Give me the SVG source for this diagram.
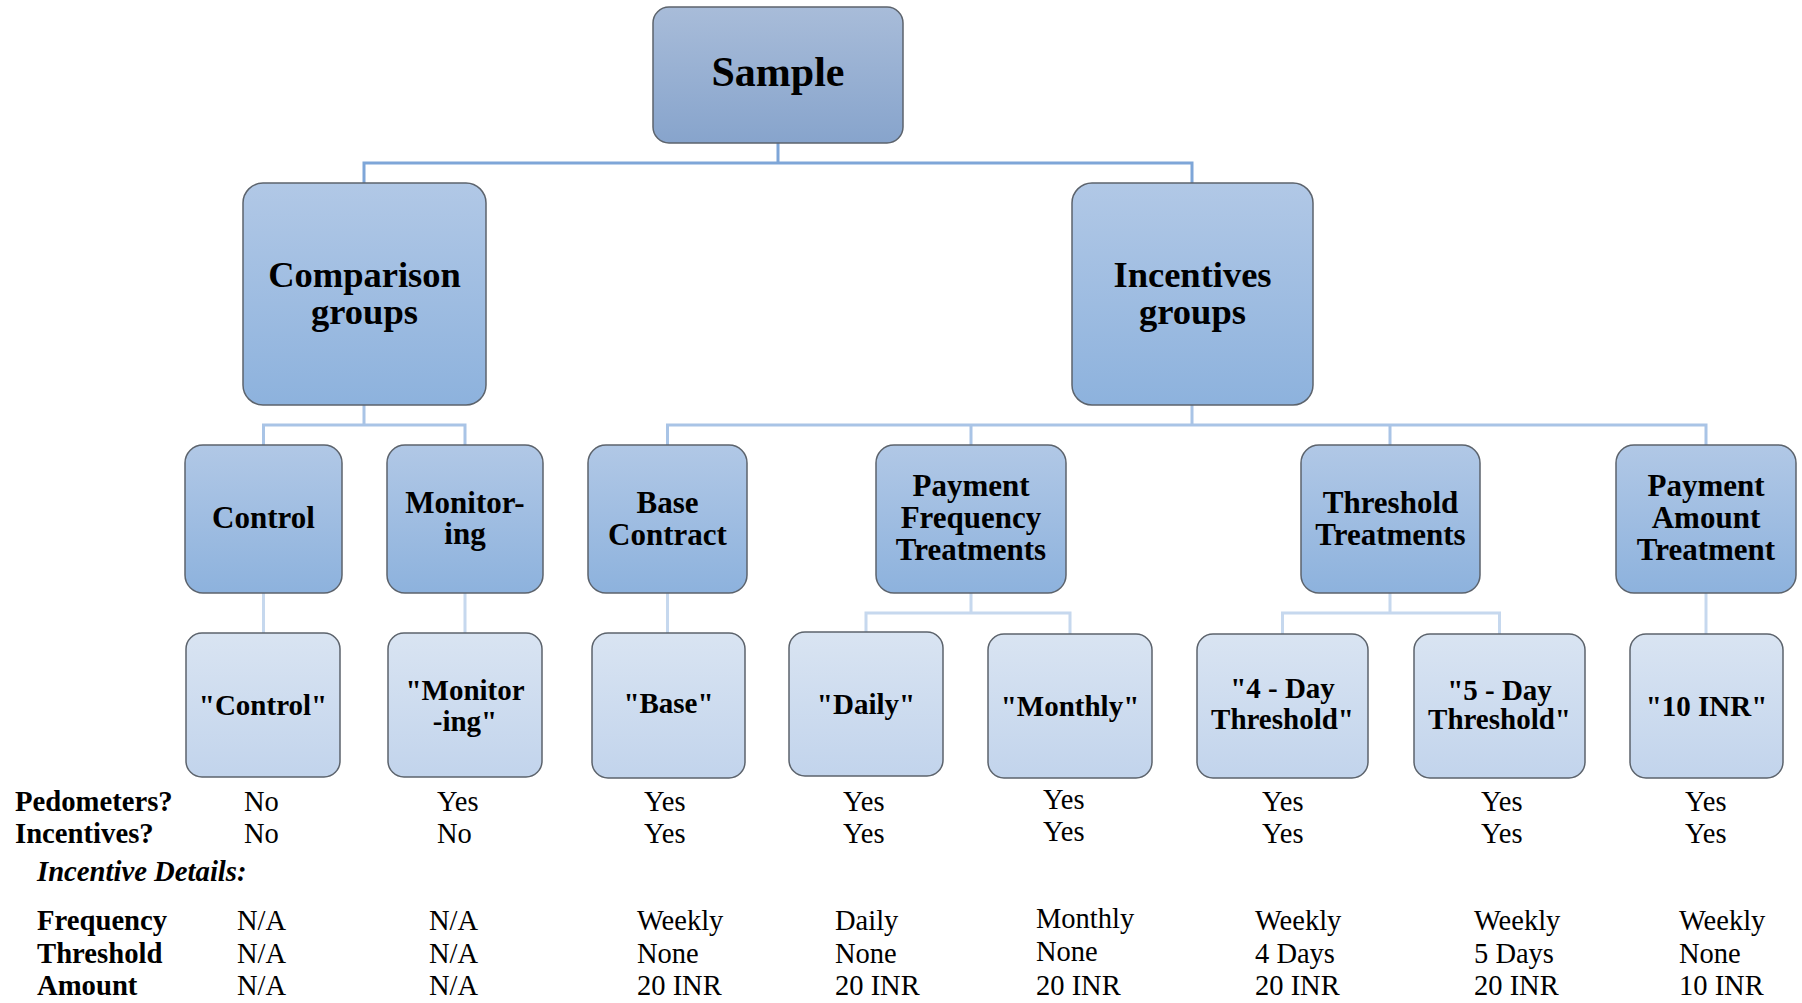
<svg xmlns="http://www.w3.org/2000/svg" width="1802" height="1003" viewBox="0 0 1802 1003">
<defs>
<linearGradient id="gTop" x1="0" y1="0" x2="0" y2="1"><stop offset="0" stop-color="#a8bcd9"/><stop offset="1" stop-color="#87a4cc"/></linearGradient>
<linearGradient id="gMid" x1="0" y1="0" x2="0" y2="1"><stop offset="0" stop-color="#b1c8e6"/><stop offset="1" stop-color="#8db2dd"/></linearGradient>
<linearGradient id="gLeaf" x1="0" y1="0" x2="0" y2="1"><stop offset="0" stop-color="#d9e4f2"/><stop offset="1" stop-color="#c2d4ec"/></linearGradient>
</defs>
<style>
.box{stroke:#5c636c;stroke-width:1.5}
.top{fill:url(#gTop)}
.mid{fill:url(#gMid)}
.leaf{fill:url(#gLeaf)}
text{font-family:"Liberation Serif","Times New Roman",serif;fill:#000}
.b{font-weight:bold;text-anchor:middle}
.t1{font-size:42px}
.t2{font-size:36.5px}
.t3{font-size:31px}
.t4{font-size:29px}
.lab{font-size:28.7px;font-weight:bold}
.it{font-size:28.7px;font-weight:bold;font-style:italic}
.v{font-size:28.5px}
.c1{stroke:#7ea6d8;stroke-width:3;fill:none}
.c2{stroke:#a9c4e6;stroke-width:3;fill:none}
.c3{stroke:#c6d8ee;stroke-width:3;fill:none}
</style>
<rect width="1802" height="1003" fill="#fff"/>
<g id="connectors">
<path class="c1" d="M778 143V163M364 183V163H1192V183"/>
<path class="c2" d="M364 405V425M263.5 445V425H465V445"/>
<path class="c2" d="M1192 405V425M667.5 445V425H1706V445M971 425V445M1390 425V445"/>
<path class="c3" d="M263.5 593V633M465 593V633M667.5 593V633"/>
<path class="c3" d="M971 593V613M866 632V613H1070V634"/>
<path class="c3" d="M1390 593V613M1282.5 634V613H1499.5V634"/>
<path class="c3" d="M1706 593V634"/>
</g>
<g id="sample"><rect class="box top" x="653" y="7" width="250" height="136" rx="16"/><text class="b t1" x="778" y="86">Sample</text></g>
<g id="comparison"><rect class="box mid" x="243" y="183" width="243" height="222" rx="20"/><text class="b t2" x="364.5" y="287">Comparison</text><text class="b t2" x="364.5" y="324">groups</text></g>
<g id="incentives"><rect class="box mid" x="1072" y="183" width="241" height="222" rx="20"/><text class="b t2" x="1192.5" y="287">Incentives</text><text class="b t2" x="1192.5" y="324">groups</text></g>
<g id="control"><rect class="box mid" x="185" y="445" width="157" height="148" rx="18"/><text class="b t3" x="263.5" y="528">Control</text></g>
<g id="monitoring"><rect class="box mid" x="387" y="445" width="156" height="148" rx="18"/><text class="b t3" x="465" y="513">Monitor-</text><text class="b t3" x="465" y="544">ing</text></g>
<g id="base-contract"><rect class="box mid" x="588" y="445" width="159" height="148" rx="18"/><text class="b t3" x="667.5" y="513">Base</text><text class="b t3" x="667.5" y="545">Contract</text></g>
<g id="payment-frequency"><rect class="box mid" x="876" y="445" width="190" height="148" rx="18"/><text class="b t3" x="971" y="496">Payment</text><text class="b t3" x="971" y="528">Frequency</text><text class="b t3" x="971" y="560">Treatments</text></g>
<g id="threshold"><rect class="box mid" x="1301" y="445" width="179" height="148" rx="18"/><text class="b t3" x="1390.5" y="513">Threshold</text><text class="b t3" x="1390.5" y="545">Treatments</text></g>
<g id="payment-amount"><rect class="box mid" x="1616" y="445" width="180" height="148" rx="18"/><text class="b t3" x="1706" y="496">Payment</text><text class="b t3" x="1706" y="528">Amount</text><text class="b t3" x="1706" y="560">Treatment</text></g>
<g id="leaf-control"><rect class="box leaf" x="186" y="633" width="154" height="144" rx="16"/><text class="b t4" x="263" y="715">"Control"</text></g>
<g id="leaf-monitoring"><rect class="box leaf" x="388" y="633" width="154" height="144" rx="16"/><text class="b t4" x="465" y="700">"Monitor</text><text class="b t4" x="465" y="731">-ing"</text></g>
<g id="leaf-base"><rect class="box leaf" x="592" y="633" width="153" height="145" rx="16"/><text class="b t4" x="668.5" y="713">"Base"</text></g>
<g id="leaf-daily"><rect class="box leaf" x="789" y="632" width="154" height="144" rx="16"/><text class="b t4" x="866" y="714">"Daily"</text></g>
<g id="leaf-monthly"><rect class="box leaf" x="988" y="634" width="164" height="144" rx="16"/><text class="b t4" x="1070" y="716">"Monthly"</text></g>
<g id="leaf-4day"><rect class="box leaf" x="1197" y="634" width="171" height="144" rx="16"/><text class="b t4" x="1282.5" y="698">"4 - Day</text><text class="b t4" x="1282.5" y="729">Threshold"</text></g>
<g id="leaf-5day"><rect class="box leaf" x="1414" y="634" width="171" height="144" rx="16"/><text class="b t4" x="1499.5" y="700">"5 - Day</text><text class="b t4" x="1499.5" y="729">Threshold"</text></g>
<g id="leaf-10inr"><rect class="box leaf" x="1630" y="634" width="153" height="144" rx="16"/><text class="b t4" x="1706.5" y="716">"10 INR"</text></g>
<g id="table">
<text class="lab" x="15" y="811">Pedometers?</text>
<text class="lab" x="15" y="843">Incentives?</text>
<text class="it" x="37" y="881">Incentive Details:</text>
<text class="lab" x="37" y="930">Frequency</text>
<text class="lab" x="37" y="963">Threshold</text>
<text class="lab" x="37" y="995">Amount</text>
<g class="v">
<text x="244" y="811">No</text><text x="437" y="811">Yes</text><text x="644" y="811">Yes</text><text x="843" y="811">Yes</text><text x="1043" y="809">Yes</text><text x="1262" y="811">Yes</text><text x="1481" y="811">Yes</text><text x="1685" y="811">Yes</text>
<text x="244" y="843">No</text><text x="437" y="843">No</text><text x="644" y="843">Yes</text><text x="843" y="843">Yes</text><text x="1043" y="841">Yes</text><text x="1262" y="843">Yes</text><text x="1481" y="843">Yes</text><text x="1685" y="843">Yes</text>
<text x="237" y="930">N/A</text><text x="429" y="930">N/A</text><text x="637" y="930">Weekly</text><text x="835" y="930">Daily</text><text x="1036" y="928">Monthly</text><text x="1255" y="930">Weekly</text><text x="1474" y="930">Weekly</text><text x="1679" y="930">Weekly</text>
<text x="237" y="963">N/A</text><text x="429" y="963">N/A</text><text x="637" y="963">None</text><text x="835" y="963">None</text><text x="1036" y="961">None</text><text x="1255" y="963">4 Days</text><text x="1474" y="963">5 Days</text><text x="1679" y="963">None</text>
<text x="237" y="995">N/A</text><text x="429" y="995">N/A</text><text x="637" y="995">20 INR</text><text x="835" y="995">20 INR</text><text x="1036" y="995">20 INR</text><text x="1255" y="995">20 INR</text><text x="1474" y="995">20 INR</text><text x="1679" y="995">10 INR</text>
</g>
</g>
</svg>
